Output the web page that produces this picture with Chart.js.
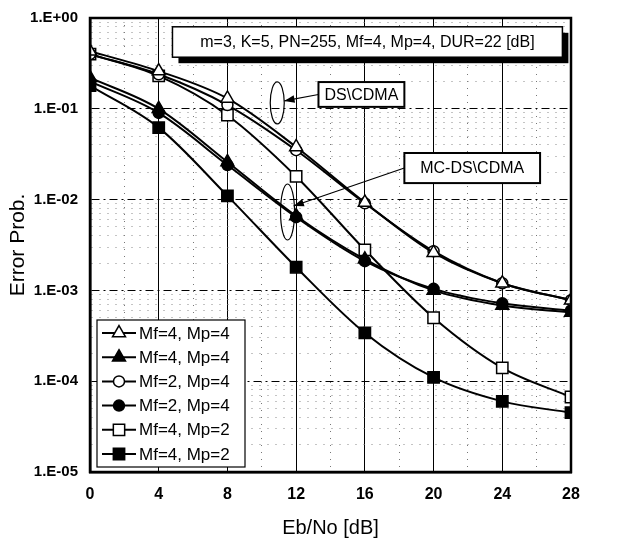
<!DOCTYPE html>
<html>
<head>
<meta charset="utf-8">
<script src="https://cdn.jsdelivr.net/npm/chart.js@4.4.1/dist/chart.umd.min.js"></script>
<style>
  html, body { margin: 0; padding: 0; background: #fff; }
</style>
</head>
<body>
<canvas id="chart" width="620" height="544"></canvas>
<script>
// --- data ---
const ebno = [0, 4, 8, 12, 16, 20, 24, 28];

const dsMf4Mp4 = [0.43, 0.26, 0.13, 0.038, 0.0093, 0.0026, 0.0012, 0.00078];
const mcMf4Mp4 = [0.22, 0.10, 0.026, 0.0066, 0.0022, 0.0010, 0.00068, 0.00057];
const dsMf2Mp4 = [0.40, 0.24, 0.11, 0.035, 0.0091, 0.0027, 0.0012, 0.00078];
const mcMf2Mp4 = [0.20, 0.09, 0.024, 0.0064, 0.0021, 0.00104, 0.00072, 0.0006];
const dsMf4Mp2 = [0.40, 0.23, 0.085, 0.018, 0.0028, 0.0005, 0.00014, 0.000067];
const mcMf4Mp2 = [0.18, 0.062, 0.011, 0.0018, 0.00034, 0.00011, 0.00006, 0.000045];

const seriesLabels = ['Mf=4, Mp=4', 'Mf=4, Mp=4', 'Mf=2, Mp=4', 'Mf=2, Mp=4', 'Mf=4, Mp=2', 'Mf=4, Mp=2'];

const yTickValues = [1, 1e-1, 1e-2, 1e-3, 1e-4, 1e-5];
const yTickLabels = ['1.E+00', '1.E-01', '1.E-02', '1.E-03', '1.E-04', '1.E-05'];
const xTickValues = [0, 4, 8, 12, 16, 20, 24, 28];

const paramText = 'm=3, K=5, PN=255, Mf=4, Mp=4, DUR=22 [dB]';
const dsText = 'DS\\CDMA';
const mcText = 'MC-DS\\CDMA';

const FONT = '"Liberation Sans", Arial, sans-serif';

// marker styles: [pointStyle, filled, radius]
const markers = [
  ['triangle', false, 7.5],
  ['triangle', true, 7.5],
  ['circle', false, 5.5],
  ['circle', true, 5.5],
  ['rect', false, 8],
  ['rect', true, 8],
];
const values = [dsMf4Mp4, mcMf4Mp4, dsMf2Mp4, mcMf2Mp4, dsMf4Mp2, mcMf4Mp2];

const datasets = values.map((v, i) => ({
  label: seriesLabels[i],
  data: v.map((y, j) => ({ x: ebno[j], y })),
  borderColor: '#000',
  borderWidth: 2,
  pointStyle: markers[i][0],
  pointRadius: markers[i][2],
  pointBackgroundColor: markers[i][1] ? '#000' : '#fff',
  pointBorderColor: '#000',
  pointBorderWidth: 1.5,
  cubicInterpolationMode: 'monotone',
  fill: false,
}));

const isDecade = v => Math.abs(Math.log10(v) - Math.round(Math.log10(v))) < 1e-6;

// --- annotations: frame, parameter box, callouts, legend ---
const decorations = {
  id: 'decorations',
  afterDraw(chart) {
    const { ctx, chartArea: a } = chart;
    const xs = chart.scales.x, ys = chart.scales.y;
    const px = v => xs.getPixelForValue(v);
    const py = v => ys.getPixelForValue(v);
    ctx.save();

    // plot frame
    ctx.strokeStyle = '#000';
    ctx.lineWidth = 2.5;
    ctx.strokeRect(a.left, a.top, a.right - a.left, a.bottom - a.top);

    // parameter box with shadow
    let x1 = px(4.8), x2 = px(27.5), y1 = py(0.8), y2 = py(0.37);
    ctx.fillStyle = '#000';
    ctx.fillRect(x1 + 6, y1 + 6, x2 - x1, y2 - y1);
    ctx.fillStyle = '#fff';
    ctx.fillRect(x1, y1, x2 - x1, y2 - y1);
    ctx.lineWidth = 1.5;
    ctx.strokeRect(x1, y1, x2 - x1, y2 - y1);
    ctx.fillStyle = '#000';
    ctx.font = '16px ' + FONT;
    ctx.textAlign = 'center';
    ctx.textBaseline = 'middle';
    ctx.fillText(paramText, (x1 + x2) / 2, (y1 + y2) / 2 + 1);

    const arrow = (fx, fy, tx, ty) => {
      ctx.beginPath();
      ctx.moveTo(fx, fy);
      ctx.lineTo(tx, ty);
      ctx.lineWidth = 1.2;
      ctx.stroke();
      const ang = Math.atan2(ty - fy, tx - fx);
      ctx.beginPath();
      ctx.moveTo(tx, ty);
      ctx.lineTo(tx - 11 * Math.cos(ang - 0.35), ty - 11 * Math.sin(ang - 0.35));
      ctx.lineTo(tx - 11 * Math.cos(ang + 0.35), ty - 11 * Math.sin(ang + 0.35));
      ctx.closePath();
      ctx.fill();
    };
    const labelBox = (xa, xb, ya, yb, text) => {
      const l = px(xa), r = px(xb), t = py(ya), b = py(yb);
      ctx.fillStyle = '#fff';
      ctx.fillRect(l, t, r - l, b - t);
      ctx.lineWidth = 2;
      ctx.strokeRect(l, t, r - l, b - t);
      ctx.fillStyle = '#000';
      ctx.fillText(text, (l + r) / 2, (t + b) / 2 + 1);
      return [l, (t + b) / 2];
    };
    const ellipse = (cx, cy, rx, ry) => {
      ctx.beginPath();
      ctx.ellipse(px(cx), py(cy), rx, ry, 0, 0, Math.PI * 2);
      ctx.lineWidth = 1.2;
      ctx.stroke();
    };

    // DS\CDMA callout
    ctx.font = '16px ' + FONT;
    ellipse(10.9, 0.116, 7, 21);
    let [lx, ly] = labelBox(13.3, 18.3, 0.197, 0.105, dsText);
    arrow(lx, ly, px(10.9) + 7, py(0.116) - 2);

    // MC-DS\CDMA callout
    ellipse(11.5, 0.0073, 7, 28);
    [lx, ly] = labelBox(18.3, 26.2, 0.0326, 0.0152, mcText);
    arrow(lx, ly, px(11.5) + 6, py(0.0073) - 6);

    // legend
    const lgL = a.left + 7, lgT = a.bottom - 152, lgW = 148, lgH = 147;
    ctx.fillStyle = '#fff';
    ctx.fillRect(lgL, lgT, lgW, lgH);
    ctx.lineWidth = 1.2;
    ctx.strokeStyle = '#000';
    ctx.strokeRect(lgL, lgT, lgW, lgH);
    ctx.font = '17px ' + FONT;
    ctx.textAlign = 'left';
    chart.data.datasets.forEach((ds, i) => {
      const cy = lgT + 13 + i * 24.2;
      ctx.beginPath();
      ctx.moveTo(lgL + 5, cy);
      ctx.lineTo(lgL + 39, cy);
      ctx.lineWidth = 2;
      ctx.strokeStyle = '#000';
      ctx.stroke();
      ctx.fillStyle = ds.pointBackgroundColor;
      ctx.lineWidth = 1.5;
      Chart.helpers.drawPoint(ctx, { pointStyle: ds.pointStyle, radius: ds.pointRadius, rotation: 0, borderWidth: 1.5 }, lgL + 22, cy);
      ctx.fillStyle = '#000';
      ctx.fillText(ds.label, lgL + 42, cy + 1);
    });
    ctx.restore();
  }
};

new Chart(document.getElementById('chart'), {
  type: 'line',
  data: { datasets },
  plugins: [decorations],
  options: {
    responsive: false,
    animation: false,
    layout: { padding: { top: 18, right: 49, left: 0, bottom: 0 } },
    plugins: { legend: { display: false }, tooltip: { enabled: false } },
    scales: {
      x: {
        type: 'linear',
        min: 0,
        max: 28,
        afterBuildTicks: s => {
          const t = [];
          for (let v = 0; v <= 28; v += 2) t.push({ value: v });
          s.ticks = t;
        },
        afterFit: s => { s.height = 72; s.paddingLeft = 0; s.paddingRight = 0; },
        ticks: {
          autoSkip: false,
          maxRotation: 0,
          padding: 13,
          color: '#000',
          font: { family: FONT, size: 16, weight: 'bold' },
          callback: v => (xTickValues.includes(v) ? String(v) : ''),
        },
        grid: {
          drawTicks: false,
          color: c => (c.tick && xTickValues.includes(c.tick.value) ? '#000' : '#777'),
          lineWidth: 1,
        },
        border: {
          color: '#000',
          width: 2.5,
          dash: c => (c.tick && !xTickValues.includes(c.tick.value) ? [1, 6] : []),
        },
        title: {
          display: true,
          text: 'Eb/No [dB]',
          color: '#000',
          font: { family: FONT, size: 20 },
          padding: { top: 6 },
        },
      },
      y: {
        type: 'logarithmic',
        min: 1e-5,
        max: 1,
        afterBuildTicks: s => {
          const t = [];
          for (let e = -5; e < 0; e++) {
            for (let k = 1; k <= 9; k++) t.push({ value: k * Math.pow(10, e) });
          }
          t.push({ value: 1 });
          s.ticks = t;
        },
        afterFit: s => { s.width = 90; s.paddingTop = 0; s.paddingBottom = 0; },
        ticks: {
          autoSkip: false,
          padding: 12,
          color: '#000',
          font: { family: FONT, size: 15, weight: 'bold' },
          callback: v => {
            const i = yTickValues.findIndex(d => Math.abs(d - v) / d < 1e-6);
            return i >= 0 ? yTickLabels[i] : '';
          },
        },
        grid: {
          drawTicks: false,
          color: c => (c.tick && isDecade(c.tick.value) ? '#000' : '#888'),
          lineWidth: 1,
        },
        border: {
          color: '#000',
          width: 2.5,
          dash: c => (c.tick ? (isDecade(c.tick.value) ? [8, 4, 2, 4] : [1, 7]) : []),
        },
        title: {
          display: true,
          text: 'Error Prob.',
          color: '#000',
          font: { family: FONT, size: 21 },
          padding: { bottom: 0, top: 6 },
        },
      },
    },
  },
});
</script>
</body>
</html>
